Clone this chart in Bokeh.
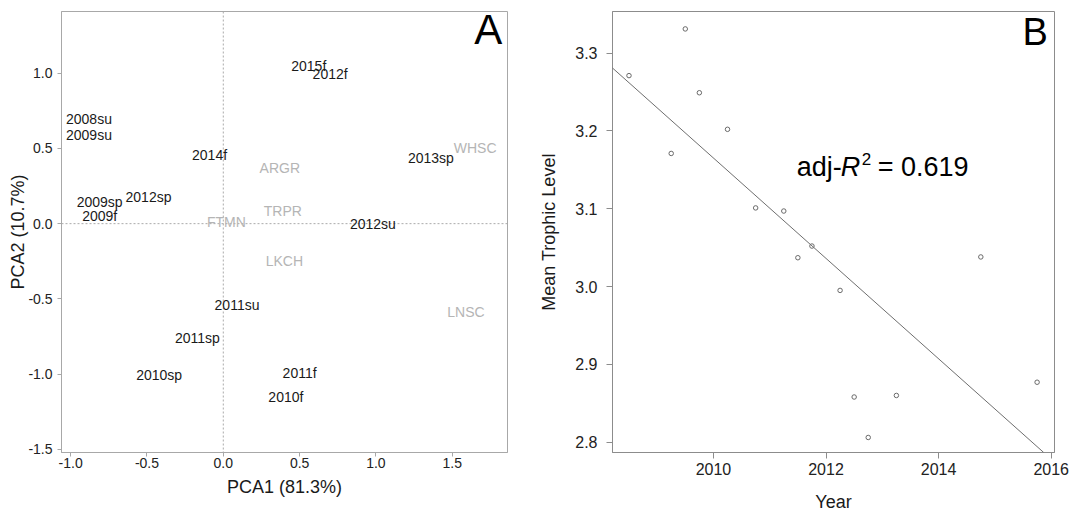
from bokeh.plotting import figure
from bokeh.layouts import row
from bokeh.models import (ColumnDataSource, Span, Label, FixedTicker,
                          PrintfTickFormatter, Range1d, Slope)
from bokeh.embed import file_html
from bokeh.resources import INLINE
from bokeh.core.properties import value
import numpy as np

FONT = "Liberation Sans"

# ---------------- Panel A data (PCA) ----------------
sample_labels = ["2015f", "2012f", "2008su", "2009su", "2014f", "2013sp", "2009sp",
                 "2012sp", "2009f", "2012su", "2011su", "2011sp", "2010sp", "2011f", "2010f"]
sample_pca1 = [0.56, 0.70, -0.88, -0.88, -0.09, 1.36, -0.81,
               -0.49, -0.81, 0.98, 0.09, -0.17, -0.42, 0.50, 0.41]
sample_pca2 = [1.045, 0.994, 0.693, 0.589, 0.457, 0.439, 0.147,
               0.175, 0.048, -0.001, -0.540, -0.763, -1.005, -0.991, -1.152]
species_labels = ["WHSC", "ARGR", "TRPR", "FTMN", "LKCH", "LNSC"]
species_pca1 = [1.65, 0.37, 0.39, 0.02, 0.40, 1.59]
species_pca2 = [0.505, 0.373, 0.083, 0.01, -0.248, -0.588]
pca1_ticks = [-1.0, -0.5, 0.0, 0.5, 1.0, 1.5]
pca2_ticks = [-1.5, -1.0, -0.5, 0.0, 0.5, 1.0]

# ---------------- Panel B data (trophic level) ----------------
year = [2008.5, 2009.25, 2009.5, 2009.75, 2010.25, 2010.75, 2011.25, 2011.75,
        2011.5, 2012.25, 2012.5, 2012.75, 2013.25, 2014.75, 2015.75]
trophic = [3.271, 3.171, 3.331, 3.249, 3.202, 3.101, 3.097, 3.052,
           3.037, 2.995, 2.858, 2.806, 2.860, 3.038, 2.877]
year_ticks = [2010, 2012, 2014, 2016]
trophic_ticks = [2.8, 2.9, 3.0, 3.1, 3.2, 3.3]
adj_r2_text = "0.619"

TEXT_COLOR = "#1a1a1a"


def style(p, tick_px, title_px, tick_out_x, tick_out_y, lab_so_x, lab_so_y, ttl_so_x, ttl_so_y, col):
    p.xgrid.visible = False
    p.ygrid.visible = False
    p.outline_line_color = col
    p.outline_line_width = 1
    p.background_fill_color = "white"
    p.border_fill_color = "white"
    for ax, tout, lso, tso in ((p.xaxis[0], tick_out_x, lab_so_x, ttl_so_x),
                               (p.yaxis[0], tick_out_y, lab_so_y, ttl_so_y)):
        ax.axis_line_color = col
        ax.major_tick_line_color = col
        ax.major_tick_in = 0
        ax.major_tick_out = tout
        ax.minor_tick_line_color = None
        ax.major_label_text_font = FONT
        ax.major_label_text_font_size = tick_px
        ax.major_label_text_color = "#222222"
        ax.major_label_standoff = lso
        ax.axis_label_text_font = FONT
        ax.axis_label_text_font_size = title_px
        ax.axis_label_text_font_style = "normal"
        ax.axis_label_text_color = TEXT_COLOR
        ax.axis_label_standoff = tso


# ---------------- Panel A ----------------
p1 = figure(width=530, height=518, x_range=Range1d(-1.06, 1.862), y_range=Range1d(-1.521, 1.41),
            output_backend="svg", toolbar_location=None,
            min_border_left=61, min_border_right=23, min_border_top=8, min_border_bottom=66,
            x_axis_label="PCA1 (81.3%)", y_axis_label="PCA2 (10.7%)")
style(p1, "14px", "18px", 4, 4, 1, 5, 6, -3, "#a8a8a8")
p1.xaxis[0].ticker = FixedTicker(ticks=pca1_ticks)
p1.yaxis[0].ticker = FixedTicker(ticks=pca2_ticks)
p1.xaxis[0].formatter = PrintfTickFormatter(format="%.1f")
p1.yaxis[0].formatter = PrintfTickFormatter(format="%.1f")

p1.add_layout(Span(location=0, dimension="height", line_color="#aaaaaa", line_width=1,
                   line_dash="2 2", level="underlay"))
p1.add_layout(Span(location=0, dimension="width", line_color="#aaaaaa", line_width=1,
                   line_dash="2 2", level="underlay"))

src_sp = ColumnDataSource(dict(x=species_pca1, y=species_pca2, t=species_labels))
p1.text(x="x", y="y", text="t", source=src_sp, text_font=value(FONT), text_font_size="14px",
        text_align="center", text_baseline="middle", text_color="#b5b5b5")
src_sa = ColumnDataSource(dict(x=sample_pca1, y=sample_pca2, t=sample_labels))
p1.text(x="x", y="y", text="t", source=src_sa, text_font=value(FONT), text_font_size="14px",
        text_align="center", text_baseline="middle", text_color=TEXT_COLOR)

p1.add_layout(Label(x=1.827, y=1.288, text="A", text_align="right", text_baseline="middle",
                    text_font=FONT, text_font_size="42px", text_color="#000000"))

# ---------------- Panel B ----------------
p2 = figure(width=544, height=518, x_range=Range1d(2008.207, 2016.059), y_range=Range1d(2.7867, 3.3534),
            output_backend="svg", toolbar_location=None,
            min_border_left=82, min_border_right=20, min_border_top=11, min_border_bottom=65,
            x_axis_label="Year", y_axis_label="Mean Trophic Level")
style(p2, "16px", "18px", 6, 6, 4, 9, 14, 13, "#8c8c8c")
p2.xaxis[0].ticker = FixedTicker(ticks=year_ticks)
p2.yaxis[0].ticker = FixedTicker(ticks=trophic_ticks)
p2.yaxis[0].formatter = PrintfTickFormatter(format="%.1f")

slope_b, intercept_b = np.polyfit(np.array(year), np.array(trophic), 1)
p2.add_layout(Slope(gradient=float(slope_b), y_intercept=float(intercept_b),
                    line_color="#6e6e6e", line_width=1))

src_b = ColumnDataSource(dict(x=year, y=trophic))
p2.scatter(x="x", y="y", source=src_b, marker="circle", size=4.5,
           fill_color=None, line_color="#6a6a6a", line_width=1)

lx, ly = 2011.479, 3.153
for txt, dx, dy, fs, st in (("adj-", 0, 0, "27px", "normal"),
                           ("R", 44, 0, "27px", "italic"),
                           ("2", 65, 8, "17px", "normal"),
                           ("= " + adj_r2_text, 81, 0, "27px", "normal")):
    p2.add_layout(Label(x=lx, y=ly, x_offset=dx, y_offset=dy, text=txt, text_align="left",
                        text_baseline="middle", text_font=FONT, text_font_size=fs,
                        text_font_style=st, text_color="#000000"))

p2.add_layout(Label(x=2015.94, y=3.3274, text="B", text_align="right", text_baseline="middle",
                    text_font=FONT, text_font_size="38px", text_color="#000000"))

layout = row(p1, p2)
open("out.html", "w").write(file_html(layout, INLINE))
